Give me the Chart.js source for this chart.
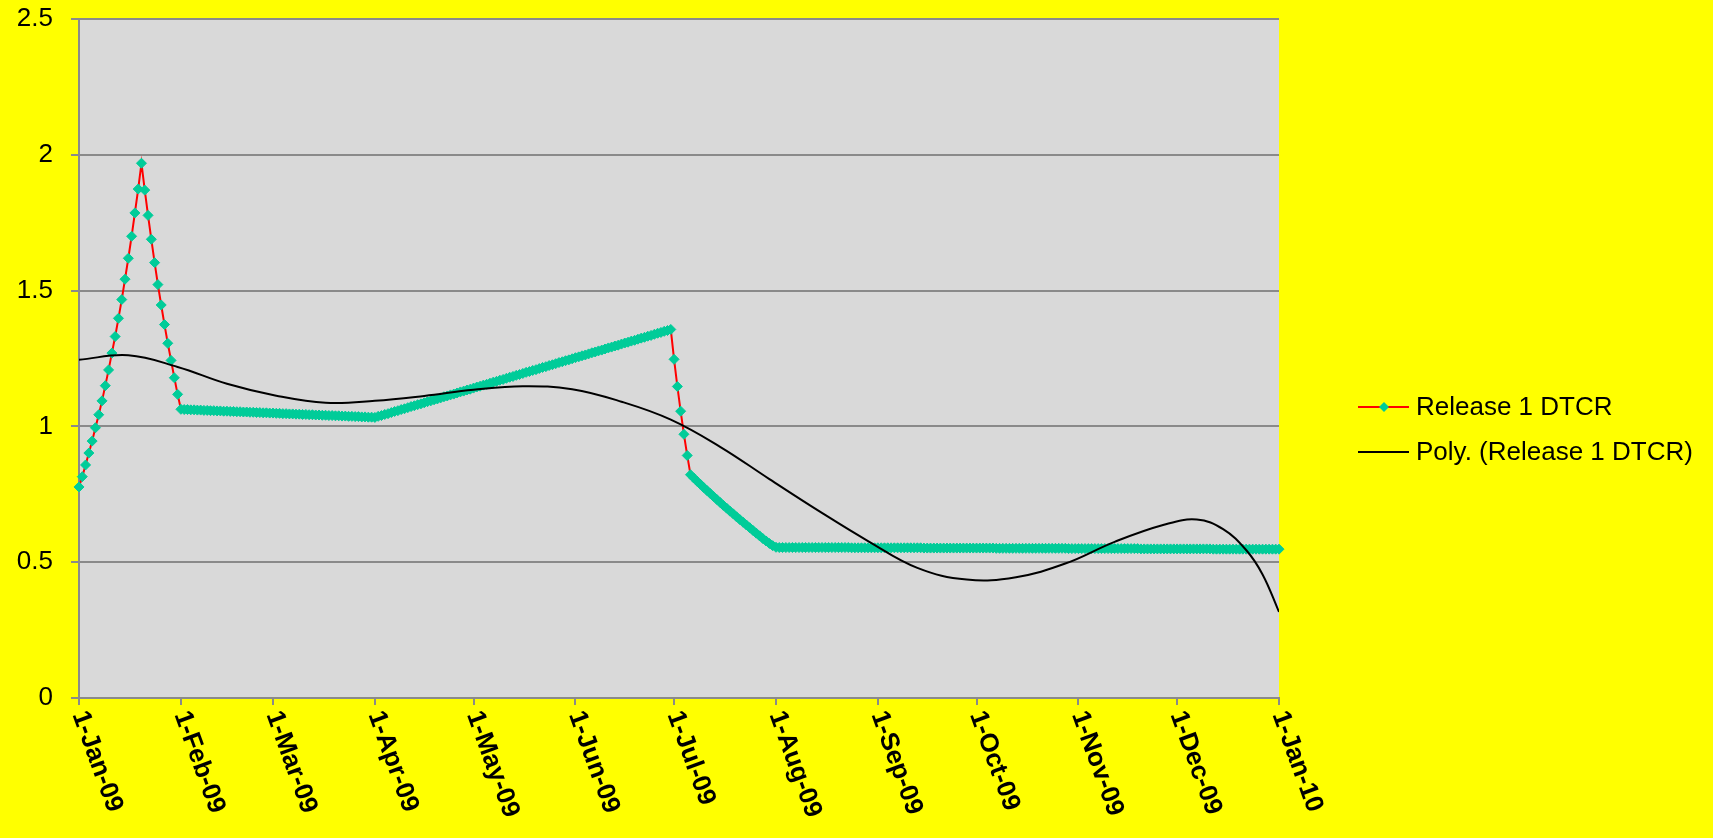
<!DOCTYPE html>
<html>
<head>
<meta charset="utf-8">
<title>Release 1 DTCR</title>
<script src="https://cdn.jsdelivr.net/npm/chart.js@4.4.1/dist/chart.umd.min.js"></script>
<style>
    html, body { margin: 0; padding: 0; background: #ffff00; }
    #chartBox { width: 1713px; height: 838px; position: relative; }
</style>
</head>
<body>
<div id="chartBox"><canvas id="dtcrChart"></canvas></div>
<script>
// Tick positions on the x axis (days since 1-Jan-09) and their labels
const monthTickDays = [0, 31, 59, 90, 120, 151, 181, 212, 243, 273, 304, 334, 365];
const monthTickLabels = ['1-Jan-09', '1-Feb-09', '1-Mar-09', '1-Apr-09', '1-May-09', '1-Jun-09',
    '1-Jul-09', '1-Aug-09', '1-Sep-09', '1-Oct-09', '1-Nov-09', '1-Dec-09', '1-Jan-10'];

// Release 1 DTCR, one value per day starting 1-Jan-09
const dtcrValues = [
    // Jan
    0.777, 0.815, 0.858, 0.902, 0.946, 0.995, 1.043, 1.094, 1.150, 1.208,
    1.270, 1.331, 1.398, 1.467, 1.542, 1.619, 1.700, 1.786, 1.874, 1.969,
    1.870, 1.777, 1.689, 1.603, 1.522, 1.447, 1.375, 1.306, 1.243, 1.179,
    1.118, 1.063,
    // Feb - Mar
    1.062, 1.062, 1.061, 1.061, 1.060, 1.060, 1.059, 1.059, 1.058, 1.058,
    1.057, 1.057, 1.056, 1.056, 1.055, 1.055, 1.054, 1.054, 1.053, 1.053,
    1.052, 1.052, 1.051, 1.051, 1.050, 1.050, 1.049, 1.049, 1.048, 1.048,
    1.047, 1.047, 1.046, 1.046, 1.045, 1.045, 1.044, 1.044, 1.043, 1.043,
    1.042, 1.042, 1.041, 1.041, 1.040, 1.040, 1.039, 1.039, 1.038, 1.038,
    1.037, 1.037, 1.036, 1.036, 1.035, 1.035, 1.034, 1.034, 1.033,
    // Apr - Jun
    1.037, 1.040, 1.044, 1.047, 1.051, 1.055, 1.058, 1.062, 1.065, 1.069,
    1.073, 1.076, 1.080, 1.083, 1.087, 1.091, 1.094, 1.098, 1.101, 1.105,
    1.109, 1.112, 1.116, 1.119, 1.123, 1.127, 1.130, 1.134, 1.137, 1.141,
    1.145, 1.148, 1.152, 1.155, 1.159, 1.163, 1.166, 1.170, 1.173, 1.177,
    1.181, 1.184, 1.188, 1.191, 1.195, 1.199, 1.202, 1.206, 1.209, 1.213,
    1.217, 1.220, 1.224, 1.227, 1.231, 1.235, 1.238, 1.242, 1.245, 1.249,
    1.253, 1.256, 1.260, 1.263, 1.267, 1.271, 1.274, 1.278, 1.281, 1.285,
    1.289, 1.292, 1.296, 1.299, 1.303, 1.307, 1.310, 1.314, 1.317, 1.321,
    1.325, 1.328, 1.332, 1.335, 1.339, 1.343, 1.346, 1.350, 1.353, 1.357,
    // Jul
    1.247, 1.147, 1.056, 0.971, 0.893,
    0.822, 0.810, 0.798, 0.787, 0.775, 0.764, 0.753, 0.742, 0.731, 0.720,
    0.709, 0.699, 0.688, 0.678, 0.667, 0.657, 0.647, 0.637, 0.627, 0.617,
    0.607, 0.597, 0.587, 0.578, 0.569, 0.561, 0.555,
    // Aug - Dec
    0.554, 0.554, 0.554, 0.554, 0.554, 0.554, 0.554, 0.554, 0.554, 0.554, 0.554,
    0.554, 0.554, 0.554, 0.554, 0.554, 0.554, 0.554, 0.554, 0.554, 0.554, 0.554,
    0.553, 0.553, 0.553, 0.553, 0.553, 0.553, 0.553, 0.553, 0.553, 0.553, 0.553,
    0.553, 0.553, 0.553, 0.553, 0.553, 0.553, 0.553, 0.553, 0.553, 0.553, 0.553,
    0.552, 0.552, 0.552, 0.552, 0.552, 0.552, 0.552, 0.552, 0.552, 0.552, 0.552,
    0.552, 0.552, 0.552, 0.552, 0.552, 0.552, 0.552, 0.552, 0.552, 0.552, 0.552,
    0.551, 0.551, 0.551, 0.551, 0.551, 0.551, 0.551, 0.551, 0.551, 0.551, 0.551,
    0.551, 0.551, 0.551, 0.551, 0.551, 0.551, 0.551, 0.551, 0.551, 0.551, 0.551,
    0.550, 0.550, 0.550, 0.550, 0.550, 0.550, 0.550, 0.550, 0.550, 0.550, 0.550,
    0.550, 0.550, 0.550, 0.550, 0.550, 0.550, 0.550, 0.550, 0.550, 0.550, 0.550,
    0.549, 0.549, 0.549, 0.549, 0.549, 0.549, 0.549, 0.549, 0.549, 0.549, 0.549,
    0.549, 0.549, 0.549, 0.549, 0.549, 0.549, 0.549, 0.549, 0.549, 0.549, 0.549,
    0.548, 0.548, 0.548, 0.548, 0.548, 0.548, 0.548, 0.548, 0.548, 0.548, 0.548,
    0.548, 0.548, 0.548, 0.548, 0.548, 0.548, 0.548, 0.548, 0.548, 0.548
];

const trendDays = [0, 15, 30, 45, 60, 75, 90, 105, 120, 135, 150, 165, 180, 195, 210,
    225, 240, 255, 270, 285, 300, 315, 330, 340, 348, 355, 360, 365];
const trendValues = [1.245, 1.262, 1.219, 1.157, 1.113, 1.087, 1.094, 1.112, 1.135, 1.148,
    1.137, 1.091, 1.025, 0.925, 0.806, 0.689, 0.578, 0.479, 0.436, 0.445, 0.495, 0.575,
    0.638, 0.657, 0.622, 0.545, 0.455, 0.317];

const seriesLabels = ['Release 1 DTCR', 'Poly. (Release 1 DTCR)'];

const FONT = '"Liberation Sans", Arial, sans-serif';
const GRID = '#8a8a8a';

// grey plot area
const plotBackground = {
    id: 'plotBackground',
    beforeDraw(chart) {
        const { ctx, chartArea: a } = chart;
        ctx.save();
        ctx.fillStyle = '#d9d9d9';
        ctx.fillRect(a.left, a.top, a.right - a.left, a.bottom - a.top);
        ctx.restore();
    }
};

// x labels are turned clockwise, which Chart.js can't do by itself
const slantedLabels = {
    id: 'slantedLabels',
    afterDraw(chart) {
        const ctx = chart.ctx;
        const xs = chart.scales.x;
        ctx.save();
        ctx.font = 'bold 26px ' + FONT;
        ctx.fillStyle = '#000';
        ctx.textAlign = 'left';
        ctx.textBaseline = 'middle';
        monthTickDays.forEach(function(d, i) {
            ctx.save();
            ctx.translate(xs.getPixelForValue(d), xs.top + 14);
            ctx.rotate(70 * Math.PI / 180);
            ctx.fillText(monthTickLabels[i], 0, 0);
            ctx.restore();
        });
        ctx.restore();
    }
};

// Excel style legend: line with marker, then the text
const sideLegend = {
    id: 'sideLegend',
    afterDraw(chart) {
        const ctx = chart.ctx;
        const left = chart.chartArea.right + 79;
        const rows = [407, 452];
        ctx.save();
        ctx.font = '26px ' + FONT;
        ctx.textBaseline = 'middle';
        ctx.textAlign = 'left';
        chart.data.datasets.forEach(function(ds, i) {
            const y = rows[i];
            ctx.strokeStyle = ds.borderColor;
            ctx.lineWidth = 2;
            ctx.beginPath();
            ctx.moveTo(left, y);
            ctx.lineTo(left + 51, y);
            ctx.stroke();
            if (ds.pointRadius > 0) {
                ctx.fillStyle = ds.pointBackgroundColor;
                ctx.beginPath();
                ctx.moveTo(left + 26, y - 5);
                ctx.lineTo(left + 31, y);
                ctx.lineTo(left + 26, y + 5);
                ctx.lineTo(left + 21, y);
                ctx.closePath();
                ctx.fill();
            }
            ctx.fillStyle = '#000';
            ctx.fillText(ds.label, left + 58, y + 1);
        });
        ctx.restore();
    }
};

function initDtcrChart() {
    const ctx = document.getElementById('dtcrChart').getContext('2d');
    new Chart(ctx, {
        type: 'line',
        data: {
            datasets: [
                {
                    label: seriesLabels[0],
                    data: dtcrValues.map(function(v, i) { return { x: i, y: v }; }),
                    borderColor: '#ff0000',
                    borderWidth: 2,
                    pointStyle: 'rectRot',
                    pointRadius: 5,
                    pointBackgroundColor: '#00cc99',
                    pointBorderColor: '#00cc99',
                    pointBorderWidth: 1,
                    tension: 0,
                    clip: false,
                    order: 2
                },
                {
                    label: seriesLabels[1],
                    data: trendDays.map(function(d, i) { return { x: d, y: trendValues[i] }; }),
                    borderColor: '#000000',
                    borderWidth: 2,
                    pointRadius: 0,
                    tension: 0.4,
                    order: 1
                }
            ]
        },
        options: {
            responsive: true,
            maintainAspectRatio: false,
            animation: false,
            layout: {
                padding: { top: 19, right: 434, bottom: 0, left: 0 }
            },
            plugins: {
                legend: { display: false },
                tooltip: { enabled: false }
            },
            scales: {
                x: {
                    type: 'linear',
                    min: 0,
                    max: 365,
                    afterBuildTicks: function(scale) {
                        scale.ticks = monthTickDays.map(function(d) { return { value: d }; });
                    },
                    afterFit: function(scale) { scale.height = 140; },
                    ticks: { display: false },
                    grid: {
                        drawOnChartArea: false,
                        drawTicks: true,
                        tickLength: 7,
                        color: GRID,
                        lineWidth: 2
                    },
                    border: { color: GRID, width: 2 }
                },
                y: {
                    min: 0,
                    max: 2.5,
                    afterFit: function(scale) {
                        // keep the wide label gap from pushing the plot down
                        scale.width = 79;
                        scale.paddingTop = 16;
                        scale.paddingBottom = 16;
                    },
                    ticks: {
                        stepSize: 0.5,
                        padding: 18,
                        color: '#000',
                        font: { family: FONT, size: 26 },
                        callback: function(value) { return String(value); }
                    },
                    grid: {
                        color: GRID,
                        lineWidth: 2,
                        tickLength: 8
                    },
                    border: { color: GRID, width: 2 }
                }
            }
        },
        plugins: [plotBackground, slantedLabels, sideLegend]
    });
}

document.addEventListener('DOMContentLoaded', initDtcrChart);
</script>
</body>
</html>
